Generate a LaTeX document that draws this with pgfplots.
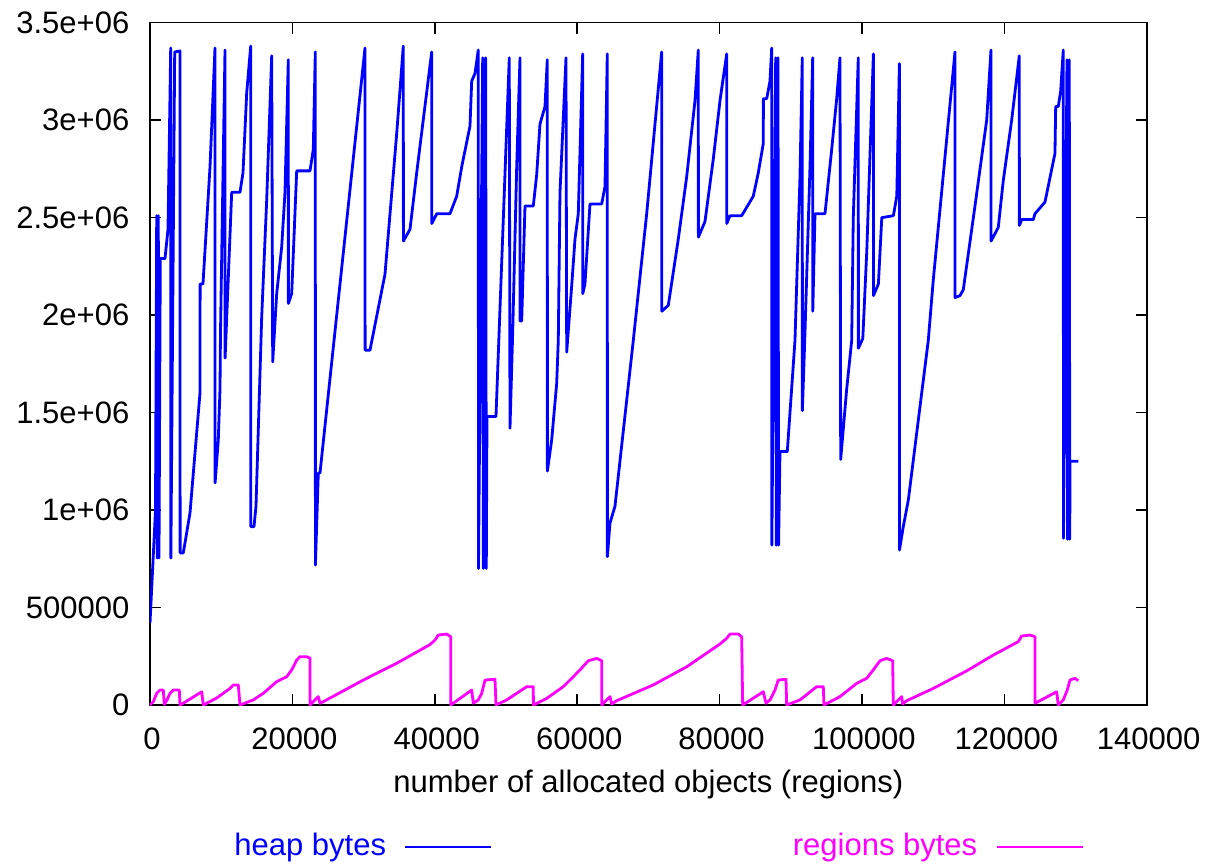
\documentclass[border=0pt]{standalone}
\usepackage{fontspec}
\setmainfont{Liberation Sans}
\usepackage{pgfplots}
\pgfplotsset{compat=1.18}
\definecolor{heapc}{RGB}{0,0,255}
\definecolor{regc}{RGB}{255,0,255}
\begin{document}
\fontsize{15.5bp}{18bp}\selectfont
\begin{tikzpicture}
\useasboundingbox (-75bp,-79.5bp) rectangle (528.5bp,352.5bp);
\begin{axis}[
  at={(0,0)}, anchor=south west,
  scale only axis, width=498.35bp, height=341.15bp,
  xmin=0, xmax=140000, ymin=0, ymax=3500000,
  scaled ticks=false,
  xtick={0,20000,40000,60000,80000,100000,120000,140000},
  xticklabels={0,20000,40000,60000,80000,100000,120000,140000},
  ytick={0,500000,1000000,1500000,2000000,2500000,3000000,3500000},
  yticklabels={0,500000,1e+06,1.5e+06,2e+06,2.5e+06,3e+06,3.5e+06},
  tick align=inside, xtick pos=both, ytick pos=both,
  major tick length=5.5bp,
  axis line style={line width=0.8bp, black},
  every tick/.style={line width=0.8bp, black},
  yticklabel style={anchor=east, xshift=-5bp},
  xticklabel style={anchor=north, yshift=-6bp, xshift=1bp},
  xlabel={number of allocated objects (regions)},
  xlabel style={at={(axis description cs:0.5,-0.1172)}, anchor=center},
  legend columns=2,
  legend plot pos=right,
  legend style={at={(axis description cs:0.0843,-0.2081)}, anchor=west, draw=none, fill=none, inner sep=0pt,
    nodes={inner sep=0pt},
    /tikz/every odd column/.append style={column sep=9bp},
    /tikz/every even column/.append style={column sep=150bp}},
  legend image code/.code={\draw[#1] (0bp,0bp) -- (43bp,0bp);},
  every axis plot/.append style={line join=round, line width=1.4bp},
]
\addplot[heapc] coordinates {
(0,420000) (773,1000000) (941,2510000) (1025,754000) (1166,2510000) (1264,754000)
(1447,2290000) (2107,2290000) (2528,2440000) (2908,3370000) (2930,754000) (3469,3350000)
(4214,3355000) (4230,780000) (4677,780000) (5618,985000) (7023,1600000) (7040,2160000)
(7444,2160000) (8428,2760000) (9130,3370000) (9145,1140000) (9594,1360000) (9832,1620000)
(9902,1910000) (10535,3360000) (10550,1780000) (11476,2630000) (12641,2630000) (13063,2730000)
(13583,3140000) (14144,3380000) (14160,915000) (14608,915000) (14889,1020000) (15690,1990000)
(16392,2590000) (17094,3330000) (17235,1760000) (17796,2110000) (18499,2350000) (18961,2630000)
(19426,3310000) (19440,2060000) (19903,2110000) (20606,2740000) (22474,2740000) (22937,2850000)
(23218,3350000) (23235,718000) (23640,1190000) (23878,1190000) (30199,3370000) (30215,1820000)
(30901,1820000) (33008,2210000) (34651,2930000) (35578,3380000) (35595,2380000) (36520,2440000)
(37461,2730000) (39568,3350000) (39585,2470000) (40270,2520000) (42138,2520000) (43079,2610000)
(43781,2760000) (44947,2970000) (45186,3200000) (45650,3240000) (46113,3360000) (46141,700000)
(46731,3320000) (46816,700000) (47153,3320000) (47237,700000) (47335,1480000) (48599,1480000)
(50467,3320000) (50566,1420000) (50945,1910000) (51507,2760000) (51970,3320000) (51985,1970000)
(52209,1970000) (52673,2560000) (53839,2560000) (54316,2720000) (54779,2980000) (55482,3070000)
(55805,3310000) (55820,1200000) (56423,1360000) (57125,1650000) (57350,1870000) (57589,2630000)
(58432,3320000) (58530,1810000) (59232,2150000) (59696,2390000) (60159,2520000) (60777,3340000)
(60792,2110000) (61100,2160000) (61802,2570000) (63446,2570000) (63909,2660000) (64232,3340000)
(64247,761000) (64612,933000) (65314,1020000) (67885,1870000) (69767,2520000) (71874,3350000)
(71890,2020000) (72801,2050000) (74206,2390000) (75385,2710000) (76551,3100000) (77015,3360000)
(77030,2400000) (77955,2480000) (79121,2800000) (80062,3100000) (81003,3340000) (81018,2470000)
(81467,2510000) (83110,2510000) (84740,2610000) (85442,2730000) (86144,2880000) (86160,3110000)
(86621,3110000) (87085,3200000) (87324,3370000) (87352,820000) (87886,3320000) (87970,820000)
(88209,3320000) (88293,820000) (88490,1300000) (89515,1300000) (90597,1870000) (91299,2710000)
(91622,3320000) (91637,1510000) (92001,1910000) (92704,2760000) (93083,3320000) (93098,2020000)
(93406,2520000) (94811,2520000) (95752,2850000) (96454,3110000) (96917,3320000) (97016,1260000)
(97859,1620000) (98561,1870000) (98786,2500000) (99488,3320000) (99503,1830000) (100121,1880000)
(100683,2330000) (101610,3340000) (101625,2100000) (102313,2160000) (102790,2500000) (104420,2510000)
(104897,2610000) (105262,3290000) (105277,795000) (105809,915000) (106511,1050000) (109320,1870000)
(110022,2180000) (113070,3350000) (113085,2090000) (113773,2100000) (114237,2130000) (115880,2560000)
(117524,3000000) (118127,3360000) (118142,2380000) (119152,2450000) (119854,2690000) (121034,3000000)
(122102,3330000) (122117,2460000) (122439,2490000) (124068,2490000) (124307,2520000) (125712,2580000)
(127116,2830000) (127215,3070000) (127580,3070000) (127917,3150000) (128282,3360000) (128310,855000)
(128802,3310000) (128872,850000) (129125,3310000) (129195,850000) (129223,1250000) (130389,1250000)
};
\addlegendentry{\textcolor{heapc}{heap bytes}}
\addplot[regc] coordinates {
(0,0) (464,17000) (941,60000) (1405,77000) (1868,77000) (2009,3000) (2388,26000) (2809,60000)
(3273,77000) (4116,77000) (4214,0) (4677,9000) (7262,68000) (7486,0) (9369,36000) (11237,85000)
(11700,103000) (12403,103000) (12641,0) (14509,26000) (15914,60000) (17796,120000) (19201,145000)
(19903,180000) (20606,230000) (21069,248000) (22010,248000) (22474,240000) (22490,0) (23176,26000)
(23640,43000) (23878,9000) (24342,17000) (29960,128000) (34651,214000) (39329,310000) (40031,333000)
(40495,359000) (41675,364000) (42237,350000) (42252,0) (45186,77000) (45411,9000) (46113,26000)
(46591,60000) (47054,128000) (48459,132000) (48599,0) (50102,26000) (52911,94000) (53839,94000)
(53854,0) (55721,34000) (58053,94000) (59458,145000) (60398,180000) (61564,227000) (62744,239000)
(63446,227000) (63461,0) (64148,26000) (64612,43000) (64851,5000) (65553,22000) (70694,103000)
(75385,196000) (80062,313000) (81003,342000) (81467,364000) (82633,364000) (83110,350000) (83250,0)
(86144,68000) (86523,9000) (87085,26000) (87788,77000) (88251,128000) (89333,132000) (89431,0)
(91299,26000) (93645,94000) (94572,94000) (94670,0) (96917,43000) (99263,111000) (100668,137000)
(101595,180000) (102536,227000) (103477,239000) (104320,227000) (104405,0) (105107,26000)
(105585,43000) (105725,5000) (106287,22000) (110022,85000) (114713,175000) (118450,256000)
(121962,325000) (122439,354000) (123605,359000) (124307,350000) (124322,9000) (127355,68000)
(127580,0) (128282,26000) (128844,77000) (129223,128000) (129926,137000) (130389,125000)
};
\addlegendentry{\textcolor{regc}{regions bytes}}
\end{axis}
\end{tikzpicture}
\end{document}
